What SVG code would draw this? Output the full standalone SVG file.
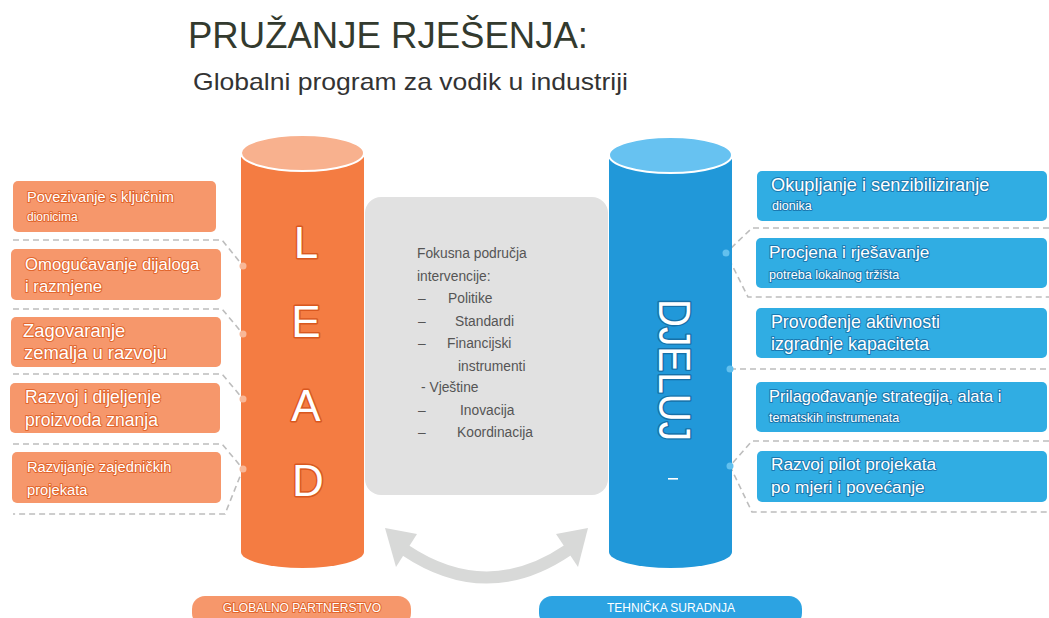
<svg xmlns="http://www.w3.org/2000/svg" width="1049" height="618" viewBox="0 0 1049 618">
<style>
text{font-family:"Liberation Sans",Arial,sans-serif}
.lbox{fill:#f6976b}
.rbox{fill:#30ade3}
.lt{fill:#fff;stroke:#e2662d;stroke-width:2;paint-order:stroke;stroke-linejoin:round}
.rt{fill:#fff;stroke:#1a78b0;stroke-width:2;paint-order:stroke;stroke-linejoin:round}
.big{font-size:44px;fill:#fff;stroke:#d9581f;stroke-width:3;paint-order:stroke;stroke-linejoin:round}
.dash{fill:none;stroke:#bdbdbd;stroke-width:1.6;stroke-dasharray:6 4}
.ldot{fill:#f8b797}
.rdot{fill:#62c0ee}
.gt{font-size:13.8px;fill:#555}
</style>
<rect width="1049" height="618" fill="#fff"/>
<g id="title">
<text x="188" y="48" font-size="37" fill="#333a2e" textLength="400" lengthAdjust="spacingAndGlyphs">PRUŽANJE RJEŠENJA:</text>
<text x="193" y="90" font-size="24" fill="#333" textLength="435" lengthAdjust="spacingAndGlyphs">Globalni program za vodik u industriji</text>
</g>
<g id="connectors">
<polyline class="dash" points="13,240 222,240 243,266"/>
<polyline class="dash" points="13,309 222,309 243,334"/>
<polyline class="dash" points="13,374 222,374 243,399"/>
<polyline class="dash" points="13,444 222,444 243,469 225,514 13,514"/>
<polyline class="dash" points="1049,228 752,228 726,253 748,297 1049,297"/>
<polyline class="dash" points="730,369 1049,369"/>
<polyline class="dash" points="1049,441 752,441 730,466 752,512 1049,512"/>
<path d="M405,550 Q487,605 568,550" fill="none" stroke="#d8d9d8" stroke-width="12"/>
<polygon points="385,528 396,567 417,534" fill="#d8d9d8"/>
<polygon points="588,528 578,567 556,534" fill="#d8d9d8"/>
</g>
<g id="lead-cylinder">
<path d="M241,153 L241,552 A61.5,16 0 0 0 364,552 L364,153 Z" fill="#f47c42"/>
<ellipse cx="302.5" cy="153" rx="61.5" ry="18" fill="#f8b18e" stroke="#fff" stroke-width="2"/>
<text class="big" x="306" y="258" text-anchor="middle">L</text>
<text class="big" x="306" y="337" text-anchor="middle">E</text>
<text class="big" x="306" y="421" text-anchor="middle">A</text>
<text class="big" x="308" y="496" text-anchor="middle">D</text>
</g>
<g id="djeluj-cylinder">
<path d="M609,155 L609,552 A61.5,16 0 0 0 732,552 L732,155 Z" fill="#2198d9"/>
<ellipse cx="670.5" cy="155" rx="61.5" ry="18" fill="#67c2f1" stroke="#fff" stroke-width="2"/>
<text transform="translate(659,299) rotate(90)" font-size="44" fill="#fff" stroke="#1670a8" stroke-width="3" paint-order="stroke" stroke-linejoin="round" textLength="142" lengthAdjust="spacingAndGlyphs">DJELUJ</text>
<rect x="668" y="478" width="10" height="1.6" fill="#fff"/>
</g>
<g id="dots">
<circle class="ldot" cx="243" cy="266" r="3.5"/>
<circle class="ldot" cx="243" cy="334" r="3.5"/>
<circle class="ldot" cx="243" cy="399" r="3.5"/>
<circle class="ldot" cx="243" cy="469" r="3.5"/>
<circle class="rdot" cx="726" cy="253" r="3.5"/>
<circle class="rdot" cx="730" cy="369" r="3.5"/>
<circle class="rdot" cx="730" cy="466" r="3.5"/>
</g>
<g id="focus-box">
<rect x="365" y="197" width="243" height="298" rx="16" fill="#e1e1e1"/>
<text class="gt" x="417" y="258">Fokusna područja</text>
<text class="gt" x="417" y="281">intervencije:</text>
<text class="gt" x="418" y="303">–</text><text class="gt" x="448" y="303">Politike</text>
<text class="gt" x="418" y="326">–</text><text class="gt" x="455" y="326">Standardi</text>
<text class="gt" x="418" y="348">–</text><text class="gt" x="447" y="348">Financijski</text>
<text class="gt" x="458" y="371">instrumenti</text>
<text class="gt" x="421" y="392">- Vještine</text>
<text class="gt" x="418" y="415">–</text><text class="gt" x="460" y="415">Inovacija</text>
<text class="gt" x="418" y="437">–</text><text class="gt" x="457" y="437">Koordinacija</text>
</g>
<g id="l1"><rect class="lbox" x="13" y="181" width="203" height="51" rx="5"/>
<text class="lt" x="27" y="202" font-size="14.6">Povezivanje s ključnim</text>
<text class="lt" x="27" y="221" font-size="12">dionicima</text></g>
<g id="l2"><rect class="lbox" x="11" y="249" width="210" height="51" rx="5"/>
<text class="lt" x="25" y="270" font-size="16.7">Omogućavanje dijaloga</text>
<text class="lt" x="25" y="292" font-size="16.7">i razmjene</text></g>
<g id="l3"><rect class="lbox" x="11" y="317" width="210" height="50" rx="5"/>
<text class="lt" x="23" y="337" font-size="18.4">Zagovaranje</text>
<text class="lt" x="24" y="359" font-size="18.4">zemalja u razvoju</text></g>
<g id="l4"><rect class="lbox" x="10" y="383" width="210" height="50" rx="5"/>
<text class="lt" x="25" y="403" font-size="17.6">Razvoj i dijeljenje</text>
<text class="lt" x="25" y="426" font-size="17.6">proizvoda znanja</text></g>
<g id="l5"><rect class="lbox" x="12" y="452" width="209" height="51" rx="5"/>
<text class="lt" x="27" y="472" font-size="14.7">Razvijanje zajedničkih</text>
<text class="lt" x="27" y="495" font-size="14.7">projekata</text></g>
<g id="r1"><rect class="rbox" x="757" y="171" width="290" height="50" rx="5"/>
<text class="rt" x="771" y="191" font-size="18.2">Okupljanje i senzibiliziranje</text>
<text class="rt" x="772" y="210" font-size="12.5">dionika</text></g>
<g id="r2"><rect class="rbox" x="756" y="238" width="291" height="50" rx="5"/>
<text class="rt" x="769" y="258" font-size="17.3">Procjena i rješavanje</text>
<text class="rt" x="769" y="279" font-size="12.6">potreba lokalnog tržišta</text></g>
<g id="r3"><rect class="rbox" x="756" y="308" width="291" height="50" rx="5"/>
<text class="rt" x="771" y="328" font-size="17.8">Provođenje aktivnosti</text>
<text class="rt" x="771" y="350" font-size="17.8">izgradnje kapaciteta</text></g>
<g id="r4"><rect class="rbox" x="756" y="382" width="291" height="50" rx="5"/>
<text class="rt" x="769" y="402" font-size="16.4">Prilagođavanje strategija, alata i</text>
<text class="rt" x="769" y="422" font-size="12.6">tematskih instrumenata</text></g>
<g id="r5"><rect class="rbox" x="757" y="451" width="290" height="51" rx="5"/>
<text class="rt" x="771" y="470" font-size="17.3">Razvoj pilot projekata</text>
<text class="rt" x="771" y="493" font-size="17.3">po mjeri i povećanje</text></g>
<g id="globalno"><rect x="192" y="596" width="219" height="30" rx="13" fill="#f6976b"/>
<text class="lt" x="302" y="612" font-size="12" text-anchor="middle" stroke-width="1.5">GLOBALNO PARTNERSTVO</text></g>
<g id="tehnicka"><rect x="539" y="596" width="263" height="30" rx="13" fill="#2ca3e2"/>
<text x="671" y="612" font-size="12" text-anchor="middle" fill="#fff">TEHNIČKA SURADNJA</text></g>
</svg>
